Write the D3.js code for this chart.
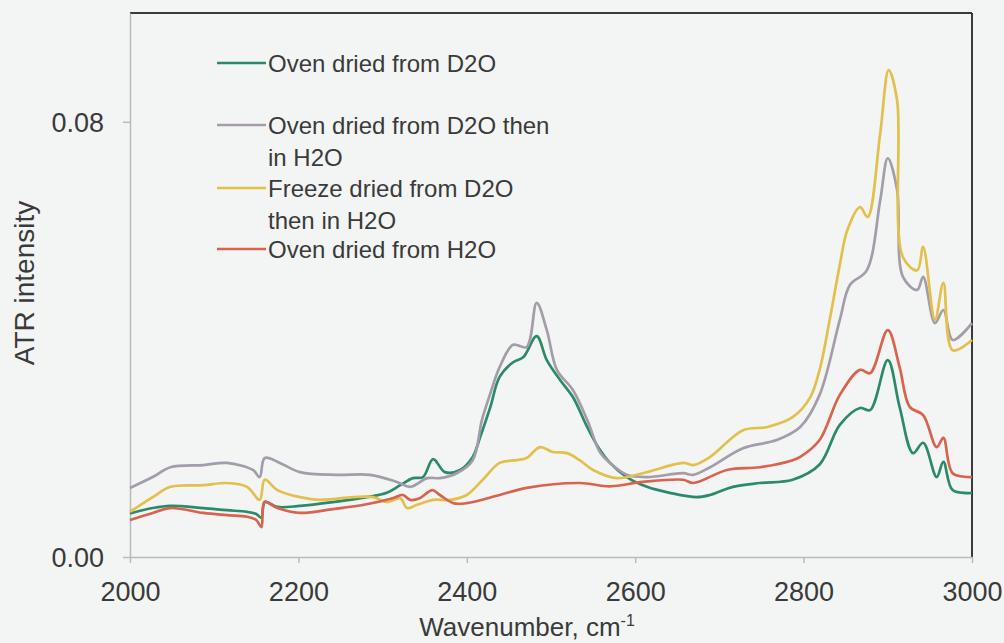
<!DOCTYPE html>
<html>
<head>
<meta charset="utf-8">
<script src="https://cdn.jsdelivr.net/npm/d3@7"></script>
<style>
  html, body { margin: 0; padding: 0; background: #f3f5f4; }
  svg { display: block; }
  text { font-family: "Liberation Sans", Arial, sans-serif; fill: #3a3a3a; }
</style>
</head>
<body>
<svg id="chart" width="1004" height="643"></svg>
<script>
// ATR spectra, 2000-3000 cm-1: [wavenumber, intensity]
const ovenD2O = [
  [2000,0.0080],[2027,0.0090],[2048,0.0094],[2087,0.0090],[2115,0.0086],[2139,0.0083],
  [2150,0.0079],[2156,0.0072],[2160,0.0101],[2175,0.0092],[2202,0.0094],[2241,0.0101],
  [2281,0.0110],[2305,0.0118],[2321,0.0132],[2336,0.0145],[2348,0.0147],[2360,0.0180],
  [2374,0.0156],[2392,0.0160],[2407,0.0184],[2416,0.0221],[2428,0.0276],[2439,0.0331],
  [2455,0.0358],[2467,0.0367],[2483,0.0406],[2495,0.0362],[2511,0.0325],[2526,0.0294],
  [2543,0.0239],[2558,0.0197],[2570,0.0173],[2590,0.0147],[2614,0.0129],[2641,0.0118],
  [2673,0.0110],[2689,0.0114],[2716,0.0129],[2748,0.0136],[2787,0.0142],[2819,0.0170],
  [2843,0.0243],[2867,0.0274],[2879,0.0270],[2900,0.0362],[2914,0.0276],[2930,0.0191],
  [2942,0.0210],[2958,0.0147],[2966,0.0175],[2977,0.0123],[3000,0.0118]
];
const ovenD2OthenH2O = [
  [2000,0.0127],[2027,0.0147],[2048,0.0165],[2087,0.0169],[2115,0.0173],[2146,0.0160],
  [2154,0.0147],[2160,0.0182],[2178,0.0173],[2202,0.0156],[2246,0.0151],[2285,0.0151],
  [2317,0.0138],[2333,0.0129],[2353,0.0145],[2368,0.0145],[2388,0.0154],[2407,0.0178],
  [2418,0.0252],[2428,0.0301],[2439,0.0349],[2455,0.0390],[2471,0.0386],[2483,0.0467],
  [2495,0.0417],[2507,0.0344],[2526,0.0307],[2543,0.0252],[2558,0.0193],[2570,0.0173],
  [2590,0.0151],[2614,0.0147],[2657,0.0154],[2669,0.0151],[2689,0.0165],[2728,0.0200],
  [2768,0.0215],[2796,0.0239],[2819,0.0298],[2843,0.0436],[2855,0.0500],[2875,0.0527],
  [2891,0.0656],[2900,0.0733],[2911,0.0675],[2918,0.0515],[2935,0.0491],[2942,0.0515],
  [2956,0.0430],[2966,0.0454],[2977,0.0399],[3000,0.0430]
];
const freezeD2OthenH2O = [
  [2000,0.0083],[2027,0.0110],[2048,0.0129],[2087,0.0132],[2115,0.0136],[2139,0.0129],
  [2154,0.0105],[2160,0.0142],[2175,0.0123],[2202,0.0110],[2226,0.0105],[2265,0.0110],
  [2289,0.0110],[2305,0.0101],[2321,0.0108],[2329,0.0090],[2341,0.0096],[2360,0.0105],
  [2380,0.0105],[2400,0.0114],[2419,0.0142],[2439,0.0173],[2460,0.0178],[2471,0.0182],
  [2487,0.0202],[2502,0.0193],[2519,0.0191],[2534,0.0178],[2550,0.0160],[2578,0.0145],
  [2609,0.0154],[2657,0.0173],[2669,0.0169],[2689,0.0184],[2728,0.0233],[2757,0.0239],
  [2787,0.0257],[2808,0.0294],[2819,0.0344],[2831,0.0436],[2843,0.0537],[2852,0.0601],
  [2867,0.0643],[2876,0.0625],[2891,0.0779],[2901,0.0895],[2911,0.0840],[2918,0.0551],
  [2935,0.0527],[2942,0.0570],[2956,0.0436],[2966,0.0504],[2977,0.0380],[3000,0.0399]
];
const ovenH2O = [
  [2000,0.0068],[2027,0.0081],[2048,0.0090],[2087,0.0081],[2115,0.0077],[2139,0.0074],
  [2150,0.0068],[2156,0.0055],[2160,0.0101],[2175,0.0090],[2202,0.0081],[2241,0.0088],
  [2281,0.0097],[2312,0.0108],[2324,0.0114],[2333,0.0105],[2344,0.0108],[2359,0.0123],
  [2368,0.0114],[2384,0.0099],[2400,0.0099],[2439,0.0114],[2471,0.0127],[2534,0.0136],
  [2570,0.0130],[2609,0.0138],[2657,0.0142],[2669,0.0136],[2709,0.0160],[2748,0.0165],
  [2787,0.0178],[2796,0.0184],[2819,0.0215],[2843,0.0298],[2867,0.0344],[2879,0.0338],
  [2900,0.0417],[2914,0.0349],[2926,0.0276],[2942,0.0261],[2958,0.0202],[2966,0.0219],
  [2977,0.0154],[3000,0.0147]
];

const xTicks = [2000, 2200, 2400, 2600, 2800, 3000];
const yTicks = [0.00, 0.08];
const seriesNames = [
  ["Oven dried from D2O"],
  ["Oven dried from D2O then", "in H2O"],
  ["Freeze dried from D2O", "then in H2O"],
  ["Oven dried from H2O"]
];
const seriesData = [ovenD2O, ovenD2OthenH2O, freezeD2OthenH2O, ovenH2O];
const seriesColors = ["#2b8a6a", "#a39ca9", "#e3bf4c", "#d8634e"];

const svg = d3.select("#chart");
const plot = { left: 130, right: 972, top: 13, bottom: 557 };

const x = d3.scaleLinear().domain([2000, 3000]).range([plot.left, plot.right]);
const y = d3.scaleLinear().domain([0, 0.1]).range([plot.bottom, plot.top]);

// frame: dark top/right edges, light left/bottom axes
svg.append("line").attr("x1", plot.left).attr("x2", plot.right)
  .attr("y1", plot.top).attr("y2", plot.top)
  .attr("stroke", "#3a3a3a").attr("stroke-width", 2);
svg.append("line").attr("x1", plot.right).attr("x2", plot.right)
  .attr("y1", plot.top).attr("y2", plot.bottom)
  .attr("stroke", "#3a3a3a").attr("stroke-width", 2);

const xAxis = svg.append("g").attr("transform", `translate(0,${plot.bottom})`)
  .call(d3.axisBottom(x).tickValues(xTicks).tickFormat(d3.format("d"))
    .tickSize(6).tickSizeOuter(0).tickPadding(18));
const yAxis = svg.append("g").attr("transform", `translate(${plot.left},0)`)
  .call(d3.axisLeft(y).tickValues(yTicks).tickFormat(d3.format(".2f"))
    .tickSize(7).tickSizeOuter(0).tickPadding(19));
[xAxis, yAxis].forEach(g => {
  g.select(".domain").attr("stroke", "#b9bcbb").attr("stroke-width", 1.5);
  g.selectAll(".tick line").attr("stroke", "#b9bcbb").attr("stroke-width", 1.5);
  g.selectAll(".tick text").attr("fill", "#3a3a3a").style("font-size", "27px")
    .style("font-family", '"Liberation Sans", Arial, sans-serif');
});
xAxis.selectAll(".tick text").attr("dy", "0.75em");
yAxis.selectAll(".tick text").attr("dy", "0.36em");

// axis titles
svg.append("text")
  .attr("transform", "translate(34,283) rotate(-90)")
  .attr("text-anchor", "middle").style("font-size", "28px")
  .text("ATR intensity");
const xt = svg.append("text").attr("x", 527).attr("y", 636)
  .attr("text-anchor", "middle").style("font-size", "26px");
xt.append("tspan").text("Wavenumber, cm");
xt.append("tspan").attr("dy", -10).style("font-size", "16px").text("-1");

// spectra
const line = d3.line().x(d => x(d[0])).y(d => y(d[1])).curve(d3.curveCatmullRom.alpha(0.5));
svg.append("g").selectAll("path").data(seriesData).join("path")
  .attr("d", line).attr("fill", "none")
  .attr("stroke", (d, i) => seriesColors[i]).attr("stroke-width", 2.7)
  .attr("stroke-linejoin", "round");

// legend
const legendY = [63, 125, 188, 249];
const lg = svg.append("g");
seriesNames.forEach((lines, i) => {
  lg.append("line").attr("x1", 217).attr("x2", 266)
    .attr("y1", legendY[i]).attr("y2", legendY[i])
    .attr("stroke", seriesColors[i]).attr("stroke-width", 2.7);
  const t = lg.append("text").attr("x", 268).attr("y", legendY[i])
    .style("font-size", "24px");
  lines.forEach((s, j) => {
    t.append("tspan").attr("x", 268).attr("dy", j === 0 ? "0.36em" : 32).text(s);
  });
});
</script>
</body>
</html>
